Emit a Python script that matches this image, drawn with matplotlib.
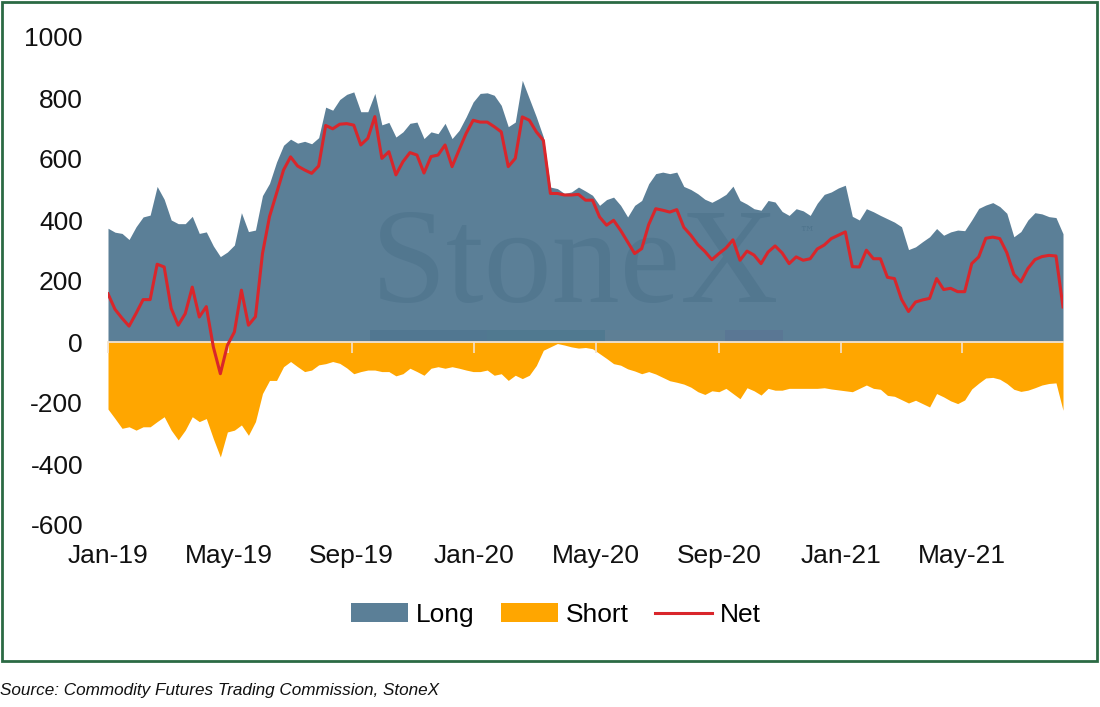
import numpy as np
import pandas as pd
import matplotlib
matplotlib.use("Agg")
import matplotlib.pyplot as plt
import matplotlib.dates as mdates
from matplotlib.patches import Rectangle

plt.rcParams['font.family'] = ['Liberation Sans', 'DejaVu Sans']
plt.rcParams['axes.unicode_minus'] = False

# weekly positions, first week of Jan 2019 to Aug 2021
dates = pd.date_range("2019-01-01", periods=137, freq="7D")

long_pos = [
    373, 360, 356, 336, 378, 410, 416, 510, 468, 400,
    388, 388, 412, 356, 361, 315, 280, 295, 318, 424,
    362, 367, 480, 520, 590, 645, 665, 652, 658, 650,
    670, 770, 760, 795, 812, 820, 755, 755, 815, 712,
    720, 672, 689, 717, 721, 667, 689, 683, 717, 667,
    694, 738, 787, 815, 817, 809, 776, 706, 721, 858,
    798, 738, 672, 508, 503, 487, 492, 508, 495, 481,
    448, 467, 475, 448, 410, 448, 464, 519, 552, 557,
    552, 557, 510, 500, 486, 468, 458, 470, 484, 511,
    464, 452, 437, 432, 464, 459, 428, 415, 437, 430,
    415, 455, 484, 492, 505, 514, 412, 400, 437, 427,
    415, 404, 393, 378, 303, 312, 329, 345, 372, 350,
    361, 367, 365, 400, 438, 449, 457, 444, 422, 345,
    362, 400, 424, 420, 411, 408, 355,
]

short_pos = [
    -220, -251, -283, -278, -289, -278, -278, -261, -245, -289,
    -321, -289, -245, -261, -251, -317, -377, -295, -289, -272,
    -306, -261, -169, -126, -126, -81, -64, -81, -97, -92,
    -75, -71, -64, -70, -85, -104, -97, -92, -92, -97,
    -97, -111, -104, -86, -97, -109, -86, -81, -86, -81,
    -86, -92, -97, -97, -92, -109, -104, -126, -109, -120,
    -109, -77, -27, -16, -5, -10, -16, -20, -18, -22,
    -38, -54, -71, -76, -88, -95, -104, -97, -105, -116,
    -127, -132, -138, -148, -163, -172, -160, -163, -152, -169,
    -186, -150, -160, -174, -152, -158, -158, -152, -152, -152,
    -152, -152, -150, -154, -157, -160, -163, -152, -141, -152,
    -155, -175, -178, -189, -200, -191, -202, -213, -169, -180,
    -193, -202, -190, -154, -135, -118, -116, -122, -136, -155,
    -162, -158, -150, -141, -136, -134, -224,
]

net_pos = [
    158, 107, 78, 52, 94, 139, 139, 255, 246, 110,
    55, 93, 180, 82, 116, -16, -104, -11, 33, 170,
    55, 83, 290, 411, 487, 564, 607, 577, 564, 553,
    577, 710, 699, 714, 716, 711, 646, 668, 739, 602,
    624, 548, 591, 621, 613, 554, 608, 613, 646, 575,
    630, 684, 727, 721, 721, 706, 689, 575, 602, 738,
    727, 689, 661, 487, 487, 482, 482, 484, 465, 465,
    410, 383, 399, 366, 328, 290, 306, 385, 437, 432,
    426, 434, 376, 350, 319, 297, 270, 290, 308, 335,
    268, 298, 285, 257, 295, 315, 292, 257, 279, 268,
    273, 305, 318, 339, 350, 361, 247, 246, 301, 273,
    273, 212, 208, 140, 100, 131, 138, 143, 208, 172,
    176, 165, 165, 257, 279, 340, 344, 339, 293, 222,
    197, 241, 270, 280, 284, 282, 115,
]

tick_dates = pd.date_range("2019-01-01", "2021-05-01", freq="4MS")
tick_labels = [d.strftime("%b-%y") for d in tick_dates]
y_ticks = list(range(-600, 1001, 200))

c_long = "#5b7f97"
c_short = "#ffa600"
c_net = "#d9262b"

fig = plt.figure(figsize=(11, 7.07), dpi=100)
ax = fig.add_axes([108 / 1100, 1 - 525 / 707, 955 / 1100, 488 / 707])

ax.fill_between(dates, 0, long_pos, color=c_long, lw=0, label="Long", zorder=1)
ax.fill_between(dates, short_pos, 0, color=c_short, lw=0, label="Short", zorder=1)
ax.plot(dates, net_pos, color=c_net, lw=2.2, label="Net", zorder=4)

# faint StoneX watermark
ax.text(0.489, 0.457, "StoneX", transform=ax.transAxes, ha="center", va="baseline",
        fontsize=98, family="Liberation Serif", color="#1f4a66", alpha=0.15, zorder=2)
ax.text(0.724, 0.60, "™", transform=ax.transAxes, ha="left", va="center",
        fontsize=11, family="DejaVu Serif", color="#1f4a66", alpha=0.2, zorder=2)
bar_cols = ["#2f5e7c", "#2a6478", "#6a7f90", "#5a5f8a"]
bar_edges = [0.274, 0.397, 0.52, 0.646, 0.707]
for k, col in enumerate(bar_cols):
    ax.add_patch(Rectangle((bar_edges[k], 0.375), bar_edges[k + 1] - bar_edges[k], 0.025,
                           transform=ax.transAxes, color=col, alpha=0.22, lw=0, zorder=2))

ax.set_xlim(dates[0], dates[-1])
ax.set_ylim(-600, 1000)
ax.set_yticks(y_ticks)
ax.tick_params(axis="y", length=0, pad=18, labelsize=19, labelcolor="#111111")

for side in ["left", "right", "top"]:
    ax.spines[side].set_visible(False)
ax.spines["bottom"].set_position(("data", 0))
ax.spines["bottom"].set_color("#f4e2cc")
ax.spines["bottom"].set_linewidth(1.3)
ax.spines["bottom"].set_zorder(3)
ax.set_xticks(tick_dates)
ax.tick_params(axis="x", direction="out", length=8, width=1.2, color="#f4e2cc",
               labelbottom=False)

sec = ax.secondary_xaxis("bottom")
sec.set_xticks(mdates.date2num(tick_dates), tick_labels)
sec.tick_params(length=0, pad=14, labelsize=19, labelcolor="#111111")
sec.spines["bottom"].set_visible(False)

fig.legend(loc="center", bbox_to_anchor=(556 / 1100, 1 - 615 / 707), ncol=3,
           frameon=False, fontsize=19, handlelength=2.15, handleheight=0.75,
           handletextpad=0.3, columnspacing=1.0)

fig.add_artist(Rectangle((2 / 1100, 1 - 661 / 707), 1095 / 1100, 659 / 707,
                         transform=fig.transFigure, fill=False, ec="#2b6a44", lw=2))
fig.text(0.0, 1 - 690 / 707, "Source: Commodity Futures Trading Commission, StoneX",
         style="italic", fontsize=12.3, va="center", ha="left", color="#111111")

fig.savefig("out.png", dpi=100)
